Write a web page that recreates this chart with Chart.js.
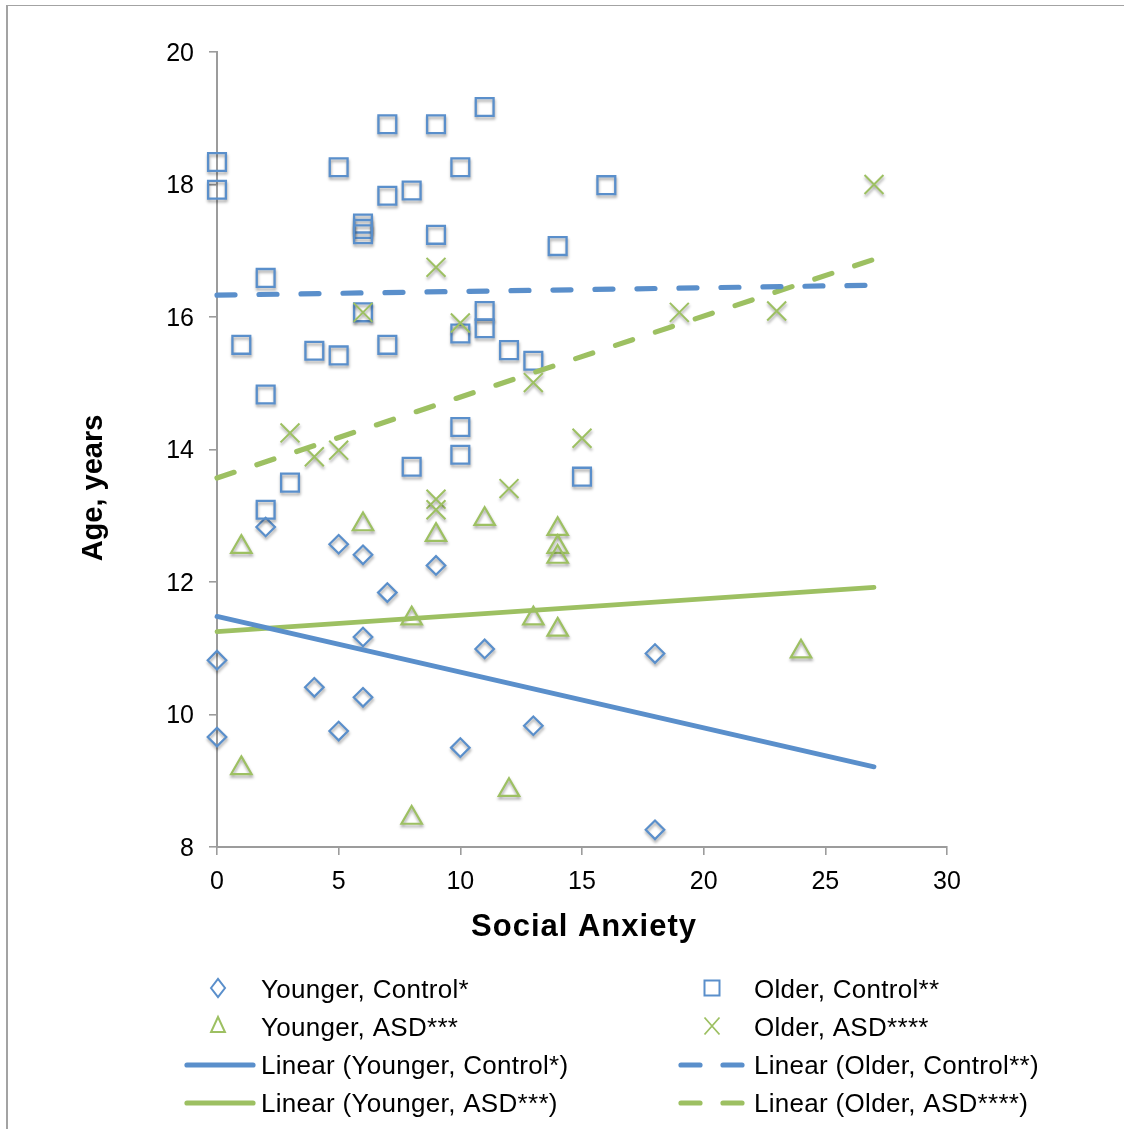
<!DOCTYPE html>
<html><head><meta charset="utf-8">
<script src="https://cdn.jsdelivr.net/npm/chart.js@4/dist/chart.umd.min.js"></script>
<style>html,body{margin:0;padding:0;background:#fff;overflow:hidden;} #wrap{width:1124px;height:1129px;position:relative;}</style>
</head><body><div id="wrap"><canvas id="c" width="1124" height="1129"></canvas></div>
<script>
const FONT = '"Liberation Sans", Arial, Helvetica, sans-serif';
const BLUE = '#5A8FCB';
const GREEN = '#9DC062';
const AXIS = '#9c9c9c';

// Series names
const seriesNames = ['Younger, Control*', 'Older, Control**', 'Younger, ASD***', 'Older, ASD****'];
const xTitle = 'Social Anxiety';
const yTitle = 'Age, years';

// Younger, Control*
const ycX = [0, 0, 2, 4, 5, 5, 6, 6, 6, 7, 9, 10, 11, 13, 18, 18];
const ycY = [10.82, 9.66, 12.83, 10.41, 12.57, 9.75, 12.41, 11.17, 10.26, 11.84, 12.25, 9.50, 10.99, 9.83, 10.92, 8.26];

// Older, Control**
const ocX = [0, 0, 1, 2, 2, 2, 3, 4, 5, 5, 6, 6, 6, 6, 7, 7, 7, 8, 8, 9, 9, 10, 10, 10, 10, 11, 11, 11, 12, 13, 14, 15, 16];
const ocY = [18.34, 17.92, 15.58, 16.59, 14.83, 13.09, 13.50, 15.49, 18.26, 15.42, 17.41, 17.33, 17.25, 16.07, 18.91, 17.83, 15.58, 17.91, 13.74, 18.91, 17.24, 18.26, 15.75, 14.34, 13.92, 19.17, 16.09, 15.83, 15.50, 15.34, 17.07, 13.59, 17.99];

// Younger, ASD***
const yaX = [1, 1, 6, 8, 8, 9, 11, 12, 13, 14, 14, 14, 14, 24];
const yaY = [12.53, 9.19, 12.87, 11.45, 8.44, 12.71, 12.95, 8.86, 11.45, 12.80, 12.53, 12.38, 11.28, 10.95];

// Older, ASD****
const oaX = [3, 4, 5, 6, 9, 9, 9, 10, 12, 13, 15, 19, 23, 27];
const oaY = [14.25, 13.89, 13.99, 16.07, 16.75, 13.25, 13.09, 15.91, 13.41, 15.01, 14.17, 16.07, 16.09, 18.00];

// Linear trend lines (end points)
const trendX = [0, 27];
const ycTrend = [11.48, 9.21];
const ocTrend = [16.33, 16.48];
const yaTrend = [11.25, 11.92];
const oaTrend = [13.57, 16.87];

// Ticks
const xTicks = [0, 5, 10, 15, 20, 25, 30];
const yTicks = [8, 10, 12, 14, 16, 18, 20];

const pts = (xs, ys) => xs.map((x, i) => ({x: x, y: ys[i]}));

function markerSet(label, xs, ys, style, radius, color, width, order) {
  return {
    type: 'scatter', label, data: pts(xs, ys), order,
    pointStyle: style, pointRadius: radius, pointHoverRadius: radius,
    pointBorderColor: color, pointBackgroundColor: 'rgba(0,0,0,0)',
    pointBorderWidth: width, pointHoverBorderWidth: width,
    showLine: false, clip: false, isMarker: true
  };
}
function trendSet(label, ys, color, dashed) {
  return {
    type: 'scatter', label, data: pts(trendX, ys), order: 0,
    showLine: true, pointRadius: 0, pointHoverRadius: 0,
    borderColor: color, borderWidth: dashed ? 5.2 : 4.8, borderCapStyle: 'round',
    borderDash: dashed ? [18, 24] : [], fill: false, clip: false, tension: 0
  };
}

const datasets = [
  trendSet('Linear (' + seriesNames[0] + ')', ycTrend, BLUE, false),
  trendSet('Linear (' + seriesNames[1] + ')', ocTrend, BLUE, true),
  trendSet('Linear (' + seriesNames[2] + ')', yaTrend, GREEN, false),
  trendSet('Linear (' + seriesNames[3] + ')', oaTrend, GREEN, true),
  markerSet(seriesNames[0], ycX, ycY, 'rectRot', 9.3, BLUE, 2.2, 4),
  markerSet(seriesNames[1], ocX, ocY, 'rect', 12.6, BLUE, 2.3, 3),
  markerSet(seriesNames[2], yaX, yaY, 'triangle', 11.8, GREEN, 2.2, 2),
  markerSet(seriesNames[3], oaX, oaY, 'crossRot', 13.4, GREEN, 2, 1)
];

const shadowPlugin = {
  id: 'markerShadow',
  beforeDatasetDraw(chart, args) {
    const ds = chart.data.datasets[args.index];
    if (!ds.isMarker) return;
    const ctx = chart.ctx;
    ctx.save();
    ctx.shadowColor = 'rgba(0,0,0,0.35)';
    ctx.shadowBlur = 3;
    ctx.shadowOffsetX = 0.5;
    ctx.shadowOffsetY = 2.5;
  },
  afterDatasetDraw(chart, args) {
    const ds = chart.data.datasets[args.index];
    if (!ds.isMarker) return;
    chart.ctx.restore();
  }
};

function drawSymbol(ctx, kind, x, y, color) {
  ctx.save();
  ctx.strokeStyle = color;
  ctx.beginPath();
  if (kind === 'diamond') {
    const r = 8; ctx.lineWidth = 2;
    ctx.moveTo(x - r + 1, y); ctx.lineTo(x, y - r - 1); ctx.lineTo(x + r - 1, y); ctx.lineTo(x, y + r + 1); ctx.closePath();
  } else if (kind === 'square') {
    const h = 7.5; ctx.lineWidth = 2;
    ctx.rect(x - h, y - h, 2 * h, 2 * h);
  } else if (kind === 'triangle') {
    const r = 10; ctx.lineWidth = 2;
    ctx.moveTo(x, y - r); ctx.lineTo(x + 0.866 * r * 0.8, y + r / 2); ctx.lineTo(x - 0.866 * r * 0.8, y + r / 2); ctx.closePath();
  } else if (kind === 'cross') {
    const h = 7.5; ctx.lineWidth = 1.8;
    ctx.moveTo(x - h, y - h - 1); ctx.lineTo(x + h, y + h + 1);
    ctx.moveTo(x + h, y - h - 1); ctx.lineTo(x - h, y + h + 1);
  }
  ctx.stroke();
  ctx.restore();
}
function drawSample(ctx, x0, x1, y, color, dashed) {
  ctx.save();
  ctx.strokeStyle = color; ctx.lineWidth = 5.2; ctx.lineCap = 'round';
  if (dashed) ctx.setLineDash([19, 23]);
  ctx.beginPath(); ctx.moveTo(x0, y); ctx.lineTo(x1, y); ctx.stroke();
  ctx.restore();
}

const decorPlugin = {
  id: 'decor',
  afterDraw(chart) {
    const ctx = chart.ctx;
    // outer frame
    ctx.save();
    ctx.strokeStyle = '#a3a3a3';
    ctx.lineWidth = 2;
    ctx.beginPath(); ctx.moveTo(7, 1129); ctx.lineTo(7, 5); ctx.stroke();
    ctx.lineWidth = 1.2;
    ctx.beginPath(); ctx.moveTo(6, 5.5); ctx.lineTo(1124, 5.5); ctx.stroke();
    ctx.restore();

    // axis titles
    ctx.save();
    ctx.fillStyle = '#000';
    ctx.font = 'bold 31px ' + FONT;
    ctx.textAlign = 'center';
    ctx.textBaseline = 'alphabetic';
    try { ctx.letterSpacing = '1px'; } catch (e) {}
    ctx.fillText(xTitle, 584, 936);
    try { ctx.letterSpacing = '0px'; } catch (e) {}
    ctx.translate(102, 488);
    ctx.rotate(-Math.PI / 2);
    ctx.font = 'bold 29px ' + FONT;
    ctx.fillText(yTitle, 0, 0);
    ctx.restore();

    // legend
    const rows = [991, 1029, 1067, 1105];
    const col1 = {sym: 218, text: 261};
    const col2 = {sym: 712, text: 754};
    ctx.save();
    ctx.fillStyle = '#000';
    ctx.font = '26px ' + FONT;
    try { ctx.letterSpacing = '0.3px'; } catch (e) {}
    ctx.textAlign = 'left';
    ctx.textBaseline = 'middle';
    drawSymbol(ctx, 'diamond', col1.sym, rows[0] - 3, BLUE);
    ctx.fillText(seriesNames[0], col1.text, rows[0]);
    drawSymbol(ctx, 'square', col2.sym, rows[0] - 3, BLUE);
    ctx.fillText(seriesNames[1], col2.text, rows[0]);
    drawSymbol(ctx, 'triangle', col1.sym, rows[1] - 2, GREEN);
    ctx.fillText(seriesNames[2], col1.text, rows[1]);
    drawSymbol(ctx, 'cross', col2.sym, rows[1] - 3, GREEN);
    ctx.fillText(seriesNames[3], col2.text, rows[1]);
    drawSample(ctx, 187, 253, rows[2] - 2, BLUE, false);
    ctx.fillText('Linear (' + seriesNames[0] + ')', col1.text, rows[2]);
    drawSample(ctx, 681, 742, rows[2] - 2, BLUE, true);
    ctx.fillText('Linear (' + seriesNames[1] + ')', col2.text, rows[2]);
    drawSample(ctx, 187, 253, rows[3] - 2, GREEN, false);
    ctx.fillText('Linear (' + seriesNames[2] + ')', col1.text, rows[3]);
    drawSample(ctx, 681, 742, rows[3] - 2, GREEN, true);
    ctx.fillText('Linear (' + seriesNames[3] + ')', col2.text, rows[3]);
    ctx.restore();
  }
};

new Chart(document.getElementById('c'), {
  type: 'scatter',
  data: {datasets},
  options: {
    responsive: false,
    animation: false,
    devicePixelRatio: 1,
    events: [],
    layout: {padding: {left: 0, right: 177, top: 52, bottom: 222}},
    plugins: {legend: {display: false}, tooltip: {enabled: false}, title: {display: false}},
    scales: {
      x: {
        type: 'linear', position: 'bottom', min: 0, max: 30,
        afterBuildTicks: s => { s.ticks = xTicks.map(v => ({value: v})); },
        afterFit: s => { s.height = 60; },
        grid: {drawOnChartArea: false, drawTicks: true, tickLength: 8, color: AXIS, lineWidth: 1.6},
        border: {display: true, color: AXIS, width: 2},
        ticks: {font: {family: FONT, size: 25}, color: '#000', padding: 12, maxRotation: 0, autoSkip: false}
      },
      y: {
        type: 'linear', position: 'left', min: 8, max: 20,
        afterBuildTicks: s => { s.ticks = yTicks.map(v => ({value: v})); },
        afterFit: s => { s.width = 217; },
        grid: {drawOnChartArea: false, drawTicks: true, tickLength: 8, color: AXIS, lineWidth: 1.6},
        border: {display: true, color: AXIS, width: 2},
        ticks: {font: {family: FONT, size: 25}, color: '#000', padding: 15, labelOffset: 2, autoSkip: false}
      }
    }
  },
  plugins: [shadowPlugin, decorPlugin]
});
</script>
</body></html>
